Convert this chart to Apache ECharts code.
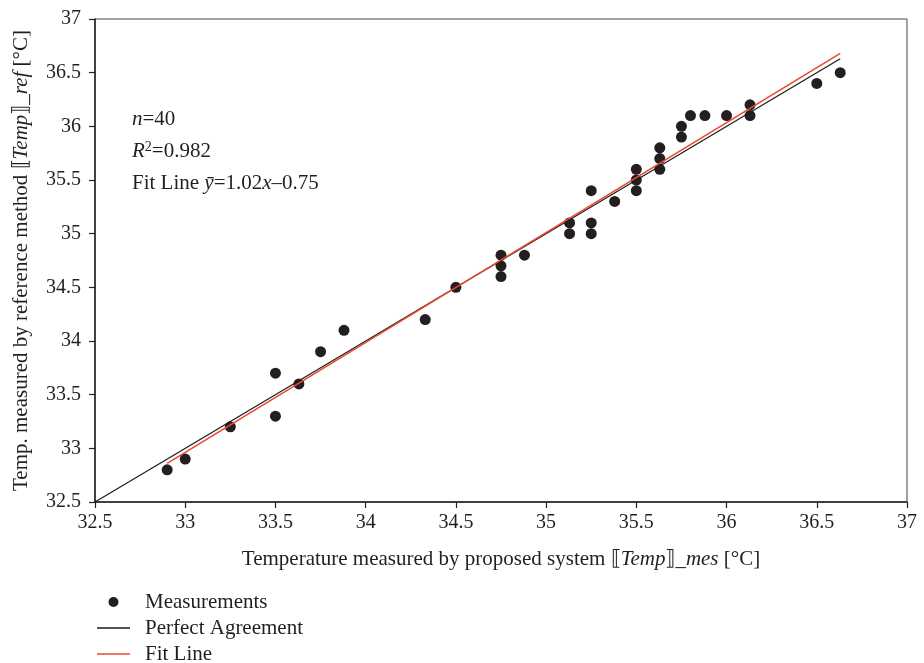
<!DOCTYPE html>
<html>
<head>
<meta charset="utf-8">
<script src="https://cdn.jsdelivr.net/npm/echarts@6/dist/echarts.min.js"></script>
<style>
html,body{margin:0;padding:0;background:#fff;}
#chart{width:924px;height:663px;}
</style>
</head>
<body>
<div id="chart"></div>
<script>
// Measured (proposed system) vs reference temperatures [°C]
const measX = [32.9, 33.0, 33.25, 33.5, 33.5, 33.63, 33.75, 33.88, 34.33, 34.5,
               34.75, 34.75, 34.75, 34.88, 35.13, 35.13, 35.25, 35.25, 35.25, 35.38,
               35.5, 35.5, 35.5, 35.63, 35.63, 35.63, 35.75, 35.75, 35.8, 35.88,
               36.0, 36.13, 36.13, 36.5, 36.63];
const measY = [32.8, 32.9, 33.2, 33.7, 33.3, 33.6, 33.9, 34.1, 34.2, 34.5,
               34.8, 34.7, 34.6, 34.8, 35.1, 35.0, 35.4, 35.1, 35.0, 35.3,
               35.6, 35.5, 35.4, 35.8, 35.7, 35.6, 36.0, 35.9, 36.1, 36.1,
               36.1, 36.2, 36.1, 36.4, 36.5];
// Perfect agreement line endpoints (x, y)
const perfectX = [32.5, 36.63];
const perfectY = [32.5, 36.63];
// Fit line endpoints as drawn (x, y)
const fitX = [32.9, 36.63];
const fitY = [32.86, 36.68];
// Axis ticks
const axisMin = 32.5, axisMax = 37, axisStep = 0.5;

const serif = '"Liberation Serif", "DejaVu Serif", serif';
const ink = '#231f20';
const FS = 21;
const lineIcon = 'path://M0,0H66V3H0Z';

const chart = echarts.init(document.getElementById('chart'), null, {renderer: 'canvas'});

const zip = (xs, ys) => xs.map((x, i) => [x, ys[i]]);

const option = {
  backgroundColor: '#fff',
  animation: false,
  grid: {left: 95, right: 17, top: 19, bottom: 161, show: true, borderColor: '#444', borderWidth: 1},
  xAxis: {
    type: 'value', min: axisMin, max: axisMax, interval: axisStep,
    axisLine: {lineStyle: {color: ink, width: 1.5}},
    axisTick: {length: 6, lineStyle: {color: ink, width: 1.2}},
    splitLine: {show: false},
    axisLabel: {color: ink, fontFamily: serif, fontSize: 20, margin: 11},
    name: '{t|Temperature measured by proposed system ⟦}{i|Temp}{t|⟧_}{i|mes}{t| [°C]}',
    nameLocation: 'middle', nameGap: 47,
    nameTextStyle: {
      rich: {
        t: {fontFamily: serif, fontSize: FS, color: ink},
        i: {fontFamily: serif, fontSize: FS, fontStyle: 'italic', color: ink}
      }
    }
  },
  yAxis: {
    type: 'value', min: axisMin, max: axisMax, interval: axisStep,
    axisLine: {show: true, lineStyle: {color: ink, width: 1.5}},
    axisTick: {show: true, length: 6, lineStyle: {color: ink, width: 1.2}},
    splitLine: {show: false},
    axisLabel: {color: ink, fontFamily: serif, fontSize: 20, margin: 14},
    name: '{t|Temp. measured by reference method ⟦}{i|Temp}{t|⟧_}{i|ref}{t| [°C]}',
    nameLocation: 'middle', nameGap: 63,
    nameTextStyle: {
      rich: {
        t: {fontFamily: serif, fontSize: FS, color: ink},
        i: {fontFamily: serif, fontSize: FS, fontStyle: 'italic', color: ink}
      }
    }
  },
  legend: {
    orient: 'vertical', left: 97, top: 591, height: 120, padding: 0,
    itemWidth: 33, itemHeight: 10, itemGap: 4,
    textStyle: {fontFamily: serif, fontSize: FS, lineHeight: 22, color: ink, padding: [0, 0, 0, 10]},
    data: [
      {name: 'Measurements', icon: 'circle'},
      {name: 'Perfect Agreement', icon: lineIcon},
      {name: 'Fit Line', icon: lineIcon}
    ]
  },
  series: [
    {
      name: 'Perfect Agreement', type: 'line', data: zip(perfectX, perfectY),
      symbol: 'none', lineStyle: {color: '#1a1a1a', width: 1.2}, itemStyle: {color: '#1a1a1a'},
      z: 3
    },
    {
      name: 'Fit Line', type: 'line', data: zip(fitX, fitY),
      symbol: 'none', lineStyle: {color: '#ea4a2c', width: 1.6}, itemStyle: {color: '#ea4a2c'},
      z: 4
    },
    {
      name: 'Measurements', type: 'scatter', data: zip(measX, measY),
      symbol: 'circle', symbolSize: 11, itemStyle: {color: '#231f20', opacity: 1},
      z: 2
    }
  ],
  graphic: [
    {
      type: 'text', left: 132, top: 109,
      style: {
        text: '{i|n}{t|=40}',
        rich: {
          t: {fontFamily: serif, fontSize: FS, fill: ink},
          i: {fontFamily: serif, fontSize: FS, fontStyle: 'italic', fill: ink}
        }
      }
    },
    {
      type: 'text', left: 132, top: 140,
      style: {
        text: '{i|R}{s|2}{t|=0.982}',
        rich: {
          t: {fontFamily: serif, fontSize: FS, fill: ink, verticalAlign: 'bottom'},
          i: {fontFamily: serif, fontSize: FS, fontStyle: 'italic', fill: ink, verticalAlign: 'bottom'},
          s: {fontFamily: serif, fontSize: 14, fill: ink, verticalAlign: 'top', padding: [0, 0, 8, 0]}
        }
      }
    },
    {
      type: 'text', left: 132, top: 173,
      style: {
        text: '{t|Fit Line }{i|ȳ}{t|=1.02}{i|x}{t|–0.75}',
        rich: {
          t: {fontFamily: serif, fontSize: FS, fill: ink},
          i: {fontFamily: serif, fontSize: FS, fontStyle: 'italic', fill: ink}
        }
      }
    }
  ]
};
chart.setOption(option);
</script>
</body>
</html>
